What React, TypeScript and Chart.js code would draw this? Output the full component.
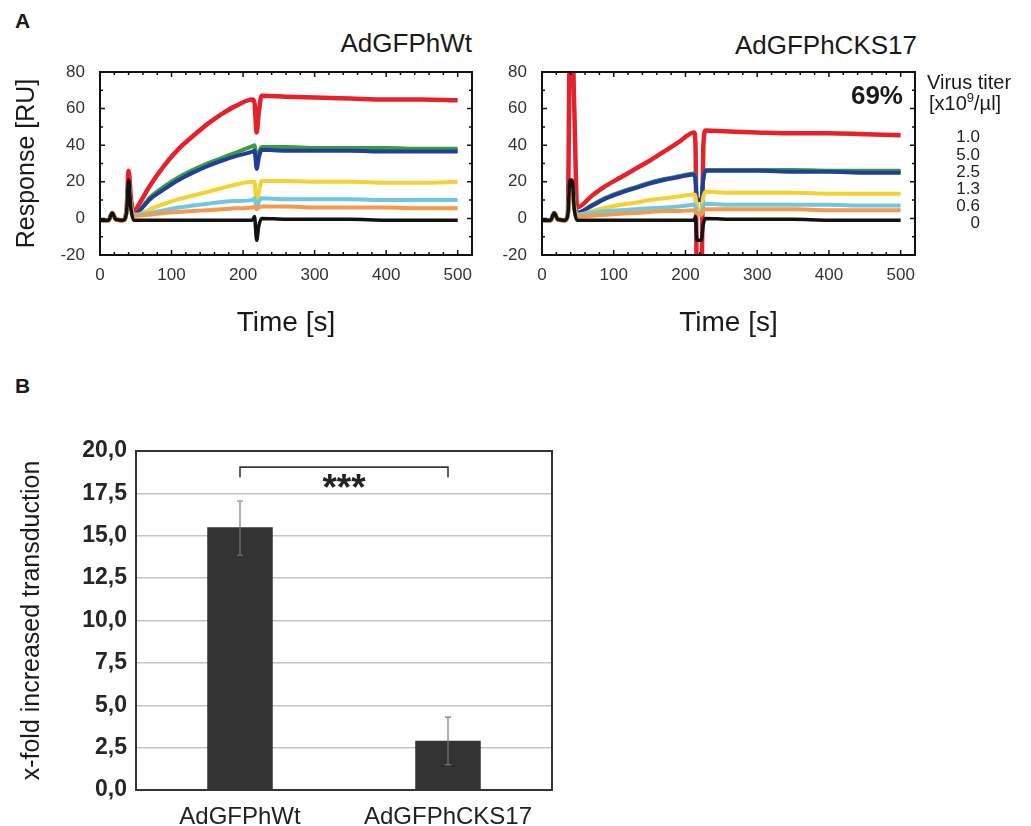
import React, { useEffect, useRef } from 'react';
import { Chart, registerables } from 'chart.js';

Chart.register(...registerables);

const FONT = '"Liberation Sans", Arial, Helvetica, sans-serif';
Chart.defaults.font.family = FONT;

// ---------- Panel A, left: AdGFPhWt ----------
const wtTime = [0, 12, 17, 22, 32, 37, 40, 43, 47, 52, 70, 90, 110, 130, 150, 170, 190, 213, 216, 219, 222, 226, 260, 300, 350, 400, 450, 500];
const wtRed = [-1, -1, 3, -0.5, -1, 4, 26, 12, 3, 6, 18, 29, 38, 45, 51.5, 57, 61.5, 65, 63, 47, 58, 67, 66.5, 66, 65.5, 65, 65, 64.5];
const wtGreen = [-1, -1, 3, -0.5, -1, 3, 20, 8, 2, 3, 11.5, 17.5, 22.5, 26.5, 30, 33, 36, 39.5, 40, 31, 36, 39, 39, 38.5, 38.5, 38.5, 38, 38];
const wtBlue = [-1, -1, 3, -0.5, -1, 3, 20, 8, 2, 3, 10.5, 16, 21, 25, 28.5, 31.5, 34, 36.5, 37, 27, 33, 37.5, 37, 37, 37, 36.5, 36.5, 36.5];
const wtYellow = [-1, -1, 3, -0.5, -1, 3, 19, 8, 2, 2, 5, 8, 10.5, 12.5, 14.5, 16.5, 18.5, 20, 20, 6, 14, 20.5, 20.5, 20, 20, 19.5, 19.5, 20];
const wtCyan = [-1, -1, 3, -0.5, -1, 3, 18, 7, 2, 2, 3, 4.5, 6, 7, 8, 9, 9.5, 10, 11, 6, 9, 11, 10.5, 10.5, 10.5, 10, 10, 10];
const wtOrange = [-1, -1, 3, -0.5, -1, 3, 17, 7, 1.5, 1.5, 2, 3, 3.5, 4, 4.5, 5, 5.5, 6, 6.5, 5, 6, 6.5, 6.5, 6, 6, 6, 5.5, 5.5];
const wtBlack = [-1, -1, 3, -0.5, -1, 3, 21, 6, -1, -1, -1, -1, -1, -1, -1, -1, -1, -1, 1, -12, -4, 0, -0.5, -0.5, -0.5, -1, -1, -1];

// ---------- Panel A, right: AdGFPhCKS17 ----------
const ckTime = [0, 12, 17, 22, 32, 36, 39, 42, 45, 49, 70, 90, 110, 130, 150, 170, 190, 212, 214, 216, 222, 225, 228, 260, 300, 350, 400, 450, 500];
const ckRed = [-1, -1, 3, -0.5, -1, 2, 100, 100, 60, 6, 12.5, 18, 22.5, 27, 31.5, 36.5, 41.5, 47, 40, -40, -40, 40, 48, 47.5, 47, 46.5, 46.5, 46, 45.5];
const ckGreen = [-1, -1, 3, -0.5, -1, 2, 18, 18, 8, 3, 7.5, 11.5, 14.5, 17, 19.5, 21.5, 23, 24.5, 22, 10, 10, 22, 26.5, 26.5, 26.5, 26.5, 26, 26, 26];
const ckBlue = [-1, -1, 3, -0.5, -1, 2, 18, 18, 8, 3, 7, 11, 14, 16.5, 19, 21, 22.5, 24, 21, 10, 10, 22, 26, 26, 26, 25.5, 25.5, 25, 25];
const ckYellow = [-1, -1, 3, -0.5, -1, 2, 17, 17, 7, 2, 4, 6, 7.5, 8.5, 10, 11, 12, 13, 12, 5, 5, 12, 14.5, 14, 14, 14, 13.5, 13.5, 13.5];
const ckCyan = [-1, -1, 3, -0.5, -1, 2, 16, 16, 6, 2, 3, 4, 4.5, 5, 5.5, 6, 6.5, 7.5, 7, 3, 3, 7, 8, 7.5, 7.5, 7.5, 7.5, 7, 7];
const ckOrange = [-1, -1, 3, -0.5, -1, 2, 15, 15, 5, 1, 1.5, 2, 2.5, 3, 3.5, 4, 4, 4.5, 4, 2, 2, 4.5, 5, 5, 5, 5, 4.5, 4.5, 4.5];
const ckBlack = [-1, -1, 3, -0.5, -1, 2, 21, 21, 5, -1, -1, -1, -1, -1, -1, -1, -1, -1, 1, -12, -12, -3, 0, -0.5, -0.5, -0.5, -1, -1, -1];

const timeTicks = [0, 100, 200, 300, 400, 500];
const responseTicks = [-20, 0, 20, 40, 60, 80];
const legendTiters = ['1.0', '5.0', '2.5', '1.3', '0.6', '0'];

// ---------- Panel B ----------
const barCategories = ['AdGFPhWt', 'AdGFPhCKS17'];
const barValues = [15.5, 2.9];
const barErrLow = [13.85, 1.5];
const barErrHigh = [17.05, 4.3];
const barTicks = [0, 2.5, 5, 7.5, 10, 12.5, 15, 17.5, 20];
const sigBracketTop = 19.05;
const sigBracketEnd = 18.45;
const sigLabelY = 18.25;
const sigLabel = '***';

const COLORS = {
  red: '#e6212b',
  green: '#3d9b3f',
  blue: '#213f9a',
  yellow: '#f3d232',
  cyan: '#71c6e2',
  orange: '#f39a4c',
  black: '#121212',
};

const framePlugin = {
  id: 'frame',
  afterDatasetsDraw(chart: any) {
    const { ctx, chartArea: a, scales } = chart;
    const x = scales.x;
    const y = scales.y;
    ctx.save();
    ctx.strokeStyle = '#111';
    ctx.lineWidth = 2;
    ctx.strokeRect(a.left, a.top, a.right - a.left, a.bottom - a.top);
    ctx.lineWidth = 1.5;
    ctx.beginPath();
    for (let v = 0; v <= 520; v += 20) {
      const px = x.getPixelForValue(v);
      const len = v % 100 === 0 ? 5 : 3;
      ctx.moveTo(px, a.bottom);
      ctx.lineTo(px, a.bottom - len);
      ctx.moveTo(px, a.top);
      ctx.lineTo(px, a.top + len);
    }
    for (let v = -20; v <= 80; v += 10) {
      const py = y.getPixelForValue(v);
      const len = v % 20 === 0 ? 5 : 3;
      ctx.moveTo(a.left, py);
      ctx.lineTo(a.left + len, py);
      ctx.moveTo(a.right, py);
      ctx.lineTo(a.right - len, py);
    }
    ctx.stroke();
    ctx.restore();
  },
};

function lineConfig(time: number[], series: { values: number[]; color: string; width: number }[], yWidth: number, padRight: number, showYTitle: boolean) {
  return {
    type: 'line',
    data: {
      datasets: series.map((s) => ({
        data: s.values.map((v, i) => ({ x: time[i], y: v })),
        borderColor: s.color,
        backgroundColor: s.color,
        borderWidth: s.width,
        pointRadius: 0,
        cubicInterpolationMode: 'monotone',
        clip: 0,
        fill: false,
      })),
    },
    options: {
      responsive: false,
      animation: false,
      layout: { padding: { top: 72, right: padRight, left: 0, bottom: 0 } },
      plugins: { legend: { display: false }, tooltip: { enabled: false }, title: { display: false } },
      scales: {
        x: {
          type: 'linear',
          min: 0,
          max: 520,
          afterBuildTicks: (s: any) => {
            s.ticks = timeTicks.map((v) => ({ value: v }));
          },
          afterFit: (s: any) => {
            s.height = 90;
          },
          grid: { display: false, drawTicks: false },
          border: { display: false },
          ticks: { font: { size: 17 }, color: '#333', padding: 10, maxRotation: 0 },
          title: { display: true, text: 'Time [s]', font: { size: 28 }, color: '#1a1a1a', padding: { top: 0, bottom: 5 } },
        },
        y: {
          type: 'linear',
          min: -20,
          max: 80,
          afterBuildTicks: (s: any) => {
            s.ticks = responseTicks.map((v) => ({ value: v }));
          },
          afterFit: (s: any) => {
            s.width = yWidth;
          },
          grid: { display: false, drawTicks: false },
          border: { display: false },
          ticks: { font: { size: 17 }, color: '#333', padding: 15 },
          title: { display: showYTitle, text: 'Response [RU]', font: { size: 25 }, color: '#1a1a1a', padding: { top: 12, bottom: 0 } },
        },
      },
    },
    plugins: [framePlugin],
  };
}

const barPlugin = {
  id: 'barExtras',
  afterDatasetsDraw(chart: any) {
    const { ctx, chartArea: a, scales } = chart;
    const x = scales.x;
    const y = scales.y;
    ctx.save();
    ctx.strokeStyle = '#333';
    ctx.lineWidth = 2;
    ctx.strokeRect(a.left, a.top, a.right - a.left, a.bottom - a.top);
    ctx.strokeStyle = '#7a7a7a';
    ctx.lineWidth = 1.2;
    barValues.forEach((_, i) => {
      const px = x.getPixelForValue(i);
      const lo = y.getPixelForValue(barErrLow[i]);
      const hi = y.getPixelForValue(barErrHigh[i]);
      ctx.beginPath();
      ctx.moveTo(px, lo);
      ctx.lineTo(px, hi);
      ctx.moveTo(px - 3, lo);
      ctx.lineTo(px + 3, lo);
      ctx.moveTo(px - 3, hi);
      ctx.lineTo(px + 3, hi);
      ctx.stroke();
    });
    const x0 = x.getPixelForValue(0);
    const x1 = x.getPixelForValue(1);
    const yt = y.getPixelForValue(sigBracketTop);
    const ye = y.getPixelForValue(sigBracketEnd);
    ctx.strokeStyle = '#3a3a3a';
    ctx.lineWidth = 1.6;
    ctx.beginPath();
    ctx.moveTo(x0, ye);
    ctx.lineTo(x0, yt);
    ctx.lineTo(x1, yt);
    ctx.lineTo(x1, ye);
    ctx.stroke();
    ctx.fillStyle = '#222';
    ctx.font = 'bold 37px ' + FONT;
    ctx.textAlign = 'center';
    ctx.textBaseline = 'alphabetic';
    const m = ctx.measureText(sigLabel);
    const off = (m.actualBoundingBoxAscent - m.actualBoundingBoxDescent) / 2;
    ctx.fillText(sigLabel, (x0 + x1) / 2, y.getPixelForValue(sigLabelY) + off);
    ctx.restore();
  },
};

function barConfig() {
  return {
    type: 'bar',
    data: {
      labels: barCategories,
      datasets: [
        {
          data: barValues,
          backgroundColor: '#333333',
          borderWidth: 0,
          barPercentage: 0.315,
          categoryPercentage: 1,
        },
      ],
    },
    options: {
      responsive: false,
      animation: false,
      layout: { padding: { top: 51, right: 18, left: 0, bottom: 0 } },
      plugins: { legend: { display: false }, tooltip: { enabled: false } },
      scales: {
        x: {
          type: 'category',
          afterFit: (s: any) => {
            s.height = 60;
          },
          grid: { display: false, drawTicks: false },
          border: { display: false },
          ticks: { font: { size: 24 }, color: '#222', padding: 13, maxRotation: 0 },
        },
        y: {
          min: 0,
          max: 20,
          afterBuildTicks: (s: any) => {
            s.ticks = barTicks.map((v) => ({ value: v }));
          },
          afterFit: (s: any) => {
            s.width = 136;
          },
          grid: { color: '#c6c6c6', lineWidth: 1.5, drawTicks: false },
          border: { display: false },
          ticks: {
            font: { size: 23, weight: 'bold' },
            color: '#262626',
            padding: 9,
            callback: (v: any) => Number(v).toFixed(1).replace('.', ','),
          },
          title: { display: true, text: 'x-fold increased transduction', font: { size: 25 }, color: '#1a1a1a', padding: { top: 17, bottom: 0 } },
        },
      },
    },
    plugins: [barPlugin],
  };
}

function ChartBox({ left, top, width, height, make }: any) {
  const ref = useRef<HTMLCanvasElement>(null);
  useEffect(() => {
    const chart = new Chart(ref.current as HTMLCanvasElement, make() as any);
    return () => chart.destroy();
  }, []);
  return (
    <div style={{ position: 'absolute', left, top, width, height }}>
      <canvas ref={ref} width={width} height={height} style={{ width, height, display: 'block' }} />
    </div>
  );
}

const txt = (extra: any): any => ({
  position: 'absolute',
  fontFamily: FONT,
  lineHeight: 1,
  whiteSpace: 'nowrap',
  color: '#1a1a1a',
  ...extra,
});

export default function App() {
  const wtSeries = [
    { values: wtBlack, color: COLORS.black, width: 3.5 },
    { values: wtOrange, color: COLORS.orange, width: 4 },
    { values: wtCyan, color: COLORS.cyan, width: 4 },
    { values: wtYellow, color: COLORS.yellow, width: 4 },
    { values: wtBlue, color: COLORS.blue, width: 4 },
    { values: wtGreen, color: COLORS.green, width: 4 },
    { values: wtRed, color: COLORS.red, width: 4.5 },
  ];
  const ckSeries = [
    { values: ckBlack, color: COLORS.black, width: 3.5 },
    { values: ckOrange, color: COLORS.orange, width: 4 },
    { values: ckCyan, color: COLORS.cyan, width: 4 },
    { values: ckYellow, color: COLORS.yellow, width: 4 },
    { values: ckBlue, color: COLORS.blue, width: 4 },
    { values: ckGreen, color: COLORS.green, width: 4 },
    { values: ckRed, color: COLORS.red, width: 4.5 },
  ];
  return (
    <div style={{ position: 'fixed', left: 0, top: 0, width: 1031, height: 826, overflow: 'hidden', background: '#fff' }}>
      <div style={txt({ left: 15, top: 10, fontSize: 21, fontWeight: 'bold' })}>A</div>
      <div style={txt({ left: 15, top: 375, fontSize: 21, fontWeight: 'bold' })}>B</div>

      <div style={txt({ left: 272, width: 200, top: 30, fontSize: 26, textAlign: 'right' })}>AdGFPhWt</div>
      <div style={txt({ left: 617, width: 300, top: 32, fontSize: 26, textAlign: 'right' })}>AdGFPhCKS17</div>

      <ChartBox left={0} top={0} width={490} height={345} make={() => lineConfig(wtTime, wtSeries, 100, 18, true)} />
      <ChartBox left={480} top={0} width={450} height={345} make={() => lineConfig(ckTime, ckSeries, 62, 15, false)} />

      <div style={txt({ left: 803, width: 100, top: 82, fontSize: 26, fontWeight: 'bold', textAlign: 'right' })}>69%</div>
      <div style={txt({ left: 927, top: 72, fontSize: 20 })}>Virus titer</div>
      <div style={txt({ left: 929, top: 93, fontSize: 20 })}>
        [x10<sup style={{ fontSize: 13, verticalAlign: 'top', position: 'relative', top: -2 }}>9</sup>/µl]
      </div>
      {legendTiters.map((t, i) => (
        <div key={t + i} style={txt({ left: 900, width: 80, top: 128.3 + i * 17.2, fontSize: 17, lineHeight: '17.2px', textAlign: 'right', color: '#222' })}>
          {t}
        </div>
      ))}

      <ChartBox left={0} top={400} width={570} height={450} make={barConfig} />
    </div>
  );
}
